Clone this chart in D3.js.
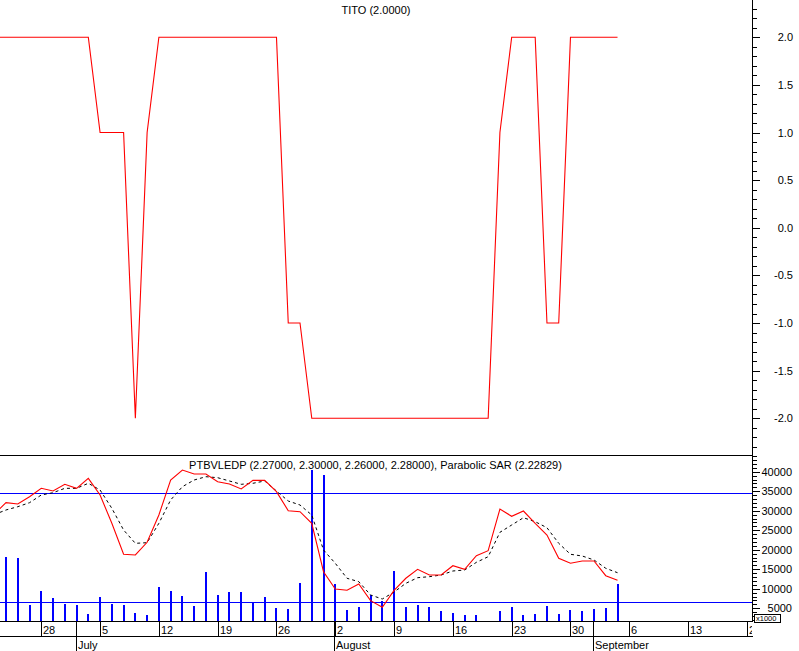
<!DOCTYPE html>
<html><head><meta charset="utf-8">
<script src="https://cdn.jsdelivr.net/npm/d3@7"></script>
<style>
body{margin:0;background:#fff}
svg{display:block}
text{font-family:"Liberation Sans",Arial,sans-serif;fill:#000}
</style>
</head><body>
<svg id="c" width="799" height="651"></svg>
<script>
// Trading days (data runs to 2004-09-03, the rest is the empty future part of the axis)
const days = [
 "2004-06-22","2004-06-23","2004-06-24","2004-06-25",
 "2004-06-28","2004-06-29","2004-06-30","2004-07-01","2004-07-02",
 "2004-07-05","2004-07-06","2004-07-07","2004-07-08","2004-07-09",
 "2004-07-12","2004-07-13","2004-07-14","2004-07-15","2004-07-16",
 "2004-07-19","2004-07-20","2004-07-21","2004-07-22","2004-07-23",
 "2004-07-26","2004-07-27","2004-07-28","2004-07-29","2004-07-30",
 "2004-08-02","2004-08-03","2004-08-04","2004-08-05","2004-08-06",
 "2004-08-09","2004-08-10","2004-08-11","2004-08-12","2004-08-13",
 "2004-08-16","2004-08-17","2004-08-18","2004-08-19","2004-08-20",
 "2004-08-23","2004-08-24","2004-08-25","2004-08-26","2004-08-27",
 "2004-08-30","2004-08-31","2004-09-01","2004-09-02","2004-09-03",
 "2004-09-06","2004-09-07","2004-09-08","2004-09-09","2004-09-10",
 "2004-09-13","2004-09-14","2004-09-15","2004-09-16","2004-09-17",
 "2004-09-20"
];
const monthNames = ["January","February","March","April","May","June","July","August","September","October","November","December"];

// TITO indicator (top panel)
const titoValues = [2,2,2,2, 2,2,2,2,2, 1,1,1,-2,1, 2,2,2,2,2, 2,2,2,2,2,
  2,-1,-1,-2,-2, -2,-2,-2,-2,-2, -2,-2,-2,-2,-2, -2,-2,-2,-2,1,
  2,2,2,-1,-1, 2,2,2,2,2];

// Lower panel lines (read on the right-hand scale, x1000)
const closeLine = [29180,32060,31720,33600, 35740,35050,36770,35740,38300,
  34030,26780,18840,18660,21910, 28910,37870,40430,39410,39410,
  37440,36850,35570,37790,37790, 34880,30010,29760,26780,14380,
  9950,9610,11230,6950,5260, 9600,12690,14990,13530,13530,
  15910,14990,18490,19770,30440, 28570,29930,26780,23780,17810,
  16530,17120,17120,13350,12170];
const sarLine = [29000,30190,31030,32060, 34030,34620,35740,35740,37030,
  35310,30620,25060,21650,21810, 26780,32750,36160,37870,38720,
  38460,37620,36770,37030,37620, 35050,32490,31470,28900,19940,
  16530,12690,11820,8410,7380, 9170,11400,12840,13100,13530,
  14560,14810,16780,18220,24470, 26340,28210,27190,25650,21650,
  18840,18400,17380,15250,14120];
const volume = [null,18100,17800,5850, 9500,7640,6180,5850,3620,
  7900,6100,5850,3800,3280, 10460,9500,8150,5600,14300,
  8400,9250,9250,6280,7980, 5150,4820,11480,40500,39150,
  11230,4650,5330,8400,6950, 14560,5250,5850,5330,4400,
  3880,3360,3360,0,4400, 5330,3280,3540,5600,3540,
  4560,4400,4820,5000,11230];
const refLevels = [34500, 6600];

const topTicks = [-2.0,-1.5,-1.0,-0.5,0.0,0.5,1.0,1.5,2.0];
const volTicks = [5000,10000,15000,20000,25000,30000,35000,40000];
const topTitle = "TITO (2.0000)";
const lowTitle = "PTBVLEDP (2.27000, 2.30000, 2.26000, 2.28000), Parabolic SAR (2.22829)";

const svg = d3.select("#c");
const W = 752;              // right edge of plot areas
const sepY = 455.5;         // panel separator
const axY = 621.5;          // bottom of lower panel
const rowY = 636.5;

svg.append("rect").attr("width",799).attr("height",651).attr("fill","#fff");

const x = d3.scaleLinear().domain([0, days.length-1]).range([-5.76, -5.76 + 11.76*(days.length-1)]);
const yT = d3.scaleLinear().domain([-2, 2]).range([418.3, 37.3]);
const yV = d3.scaleLinear().domain([5000, 40000]).range([608.3, 471.7]);

const defs = svg.append("defs");
defs.append("clipPath").attr("id","cpTop").append("rect").attr("x",0).attr("y",0).attr("width",W).attr("height",sepY);
defs.append("clipPath").attr("id","cpLow").append("rect").attr("x",0).attr("y",sepY+0.5).attr("width",W).attr("height",axY-sepY-0.5);
defs.append("clipPath").attr("id","cpAx").append("rect").attr("x",0).attr("y",axY).attr("width",W).attr("height",651-axY);

// ---- top panel
const gTop = svg.append("g").attr("clip-path","url(#cpTop)");
gTop.append("path")
  .datum(titoValues)
  .attr("fill","none").attr("stroke","#ff0000").attr("stroke-width",1.1)
  .attr("d", d3.line().x((d,i)=>x(i)).y(d=>yT(d)));

svg.append("text").attr("x",376).attr("y",14).attr("text-anchor","middle")
  .attr("font-size",11).text(topTitle);

// ---- lower panel
const gLow = svg.append("g").attr("clip-path","url(#cpLow)");
gLow.selectAll("line.ref").data(refLevels).join("line")
  .attr("x1",0).attr("x2",W)
  .attr("y1",d=>Math.round(yV(d))+0.5).attr("y2",d=>Math.round(yV(d))+0.5)
  .attr("stroke","#0000ff").attr("stroke-width",1).attr("shape-rendering","crispEdges");

gLow.selectAll("rect.bar").data(volume.map((v,i)=>({v,i})).filter(d=>d.v!=null && d.v>0)).join("rect")
  .attr("x",d=>Math.round(x(d.i))-1)
  .attr("y",d=>yV(d.v))
  .attr("width",2)
  .attr("height",d=>axY-yV(d.v))
  .attr("fill","#0000ff").attr("shape-rendering","crispEdges");

gLow.append("path").datum(sarLine)
  .attr("fill","none").attr("stroke","#000").attr("stroke-width",1)
  .attr("stroke-dasharray","3,3")
  .attr("d", d3.line().x((d,i)=>x(i)).y(d=>yV(d)));
gLow.append("path").datum(closeLine)
  .attr("fill","none").attr("stroke","#ff0000").attr("stroke-width",1.1)
  .attr("d", d3.line().x((d,i)=>x(i)).y(d=>yV(d)));

svg.append("text").attr("x",375.5).attr("y",469).attr("text-anchor","middle")
  .attr("font-size",11).text(lowTitle);

// ---- frame lines
const frame = svg.append("g").attr("stroke","#000").attr("stroke-width",1).attr("shape-rendering","crispEdges");
frame.append("line").attr("x1",0).attr("x2",W).attr("y1",sepY).attr("y2",sepY);
frame.append("line").attr("x1",W+0.5).attr("x2",W+0.5).attr("y1",0).attr("y2",axY+0.5);
frame.append("line").attr("x1",0).attr("x2",W+1).attr("y1",axY).attr("y2",axY);
frame.append("line").attr("x1",0).attr("x2",W+1).attr("y1",rowY).attr("y2",rowY);

// ---- right axis, top panel
const topMinor = d3.range(-23, 24).map(k=>k/10);
frame.selectAll("line.tt").data(topMinor).join("line")
  .attr("x1",W+0.5).attr("x2",d=>W+0.5+(Math.abs(Math.round(d*10))%5===0?7:4))
  .attr("y1",d=>Math.round(yT(d))+0.5).attr("y2",d=>Math.round(yT(d))+0.5);
svg.selectAll("text.tl").data(topTicks).join("text")
  .attr("x",793).attr("y",d=>yT(d)+4).attr("text-anchor","end").attr("font-size",11)
  .text(d=>d3.format(".1f")(d).replace("−","-"));

// ---- right axis, lower panel
const volMinor = d3.range(2000, 45000, 1000);
frame.selectAll("line.vt").data(volMinor).join("line")
  .attr("x1",W+0.5).attr("x2",d=>W+0.5+(d%5000===0?7:4))
  .attr("y1",d=>Math.round(yV(d))+0.5).attr("y2",d=>Math.round(yV(d))+0.5);
svg.selectAll("text.vl").data(volTicks).join("text")
  .attr("x",792).attr("y",d=>yV(d)+4).attr("text-anchor","end").attr("font-size",11)
  .text(d=>d);
svg.append("rect").attr("x",754.5).attr("y",614.5).attr("width",26).attr("height",7.5)
  .attr("fill","#fff").attr("stroke","#000").attr("stroke-width",1).attr("shape-rendering","crispEdges");
svg.append("text").attr("x",756).attr("y",621.3).attr("font-size",7.5).text("x1000");

// ---- date axis
const parse = d3.timeParse("%Y-%m-%d");
const dd = days.map(parse);
const gAx = svg.append("g").attr("clip-path","url(#cpAx)");
const mondays = dd.map((d,i)=>({d,i})).filter(o=>o.d.getDay()===1);
gAx.selectAll("line.wk").data(mondays).join("line")
  .attr("x1",o=>Math.round(x(o.i))+0.5).attr("x2",o=>Math.round(x(o.i))+0.5)
  .attr("y1",axY).attr("y2",rowY)
  .attr("stroke","#000").attr("shape-rendering","crispEdges");
gAx.selectAll("text.wk").data(mondays).join("text")
  .attr("x",o=>Math.round(x(o.i))+2).attr("y",634.3).attr("font-size",11)
  .text(o=>o.d.getDate());
const monthStarts = dd.map((d,i)=>({d,i})).filter(o=>o.i>0 && o.d.getMonth()!==dd[o.i-1].getMonth());
gAx.selectAll("line.mo").data(monthStarts).join("line")
  .attr("x1",o=>Math.round(x(o.i))-0.5).attr("x2",o=>Math.round(x(o.i))-0.5)
  .attr("y1",axY).attr("y2",651)
  .attr("stroke","#000").attr("shape-rendering","crispEdges");
gAx.selectAll("text.mo").data(monthStarts).join("text")
  .attr("x",o=>Math.round(x(o.i))+1).attr("y",648.5).attr("font-size",11)
  .text(o=>monthNames[o.d.getMonth()]);
</script>
</body></html>
